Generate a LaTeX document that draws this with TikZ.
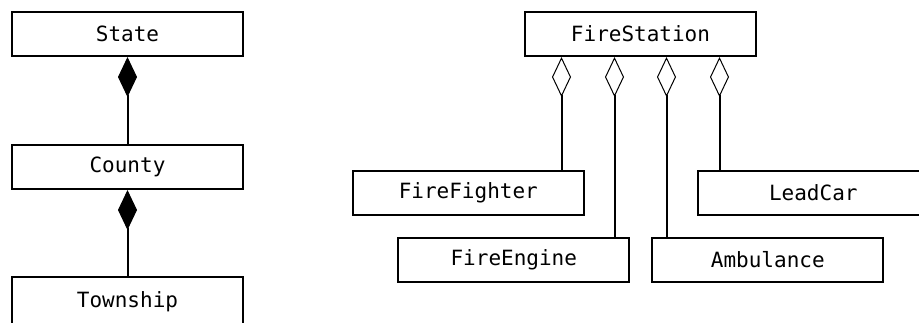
\documentclass[tikz,border=0pt]{standalone}
\usepackage{fontspec}
\setmonofont{DejaVu Sans Mono}
\usepackage{tikz}
\usetikzlibrary{positioning,arrows.meta,calc}
\tikzset{
  cls/.style={draw,line width=2pt,minimum width=231pt,minimum height=44pt,inner sep=0pt,
    font=\ttfamily\fontsize{21}{25}\selectfont},
  comp/.style={line width=2pt,arrows={Diamond[length=40pt,width=19pt,line width=1pt]-}},
  agg/.style={line width=2pt,arrows={Diamond[open,length=40pt,width=19pt,line width=1pt]-}},
}

\begin{document}
\begin{tikzpicture}[node distance=87pt]
\path[use as bounding box,clip] (0pt,0pt) rectangle (919pt,-322pt);
% composition: State > County > Township
\node[cls] (state) at (127.5pt,-34pt) {State};
\node[cls, below=of state] (county) {County};
\node[cls, below=86pt of county, minimum height=50pt] (township) {Township};
\draw[comp] (state) -- (county);
\draw[comp] (county) -- (township);
% aggregation: FireStation and its parts
\node[cls] (station) at (640.5pt,-34pt) {FireStation};
\node[cls] (fighter) at (468.3pt,-192.5pt) {FireFighter};
\node[cls] (engine) at (513.8pt,-259.5pt) {FireEngine};
\node[cls] (ambulance) at (767.8pt,-259.5pt) {Ambulance};
\node[cls] (leadcar) at (813.3pt,-192.5pt) {LeadCar};
\coordinate (s1) at ($(station.south)+(-79pt,0)$);
\coordinate (s2) at ($(station.south)+(-26pt,0)$);
\coordinate (s3) at ($(station.south)+(26pt,0)$);
\coordinate (s4) at ($(station.south)+(79pt,0)$);
\draw[agg] (s1) -- (s1 |- fighter.north);
\draw[agg] (s2) -- (s2 |- engine.north);
\draw[agg] (s3) -- (s3 |- ambulance.north);
\draw[agg] (s4) -- (s4 |- leadcar.north);
\end{tikzpicture}
\end{document}
